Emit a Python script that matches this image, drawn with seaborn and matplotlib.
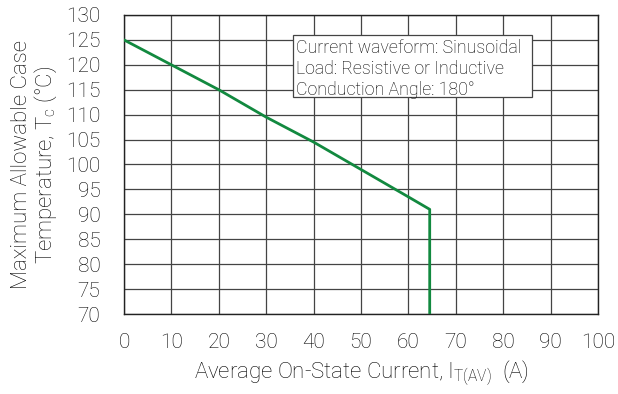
import matplotlib
matplotlib.use("Agg")
import matplotlib.pyplot as plt
from matplotlib.patches import Rectangle
import seaborn as sns
import pandas as pd

# Derating curve: average on-state current vs. maximum case temperature
current_a = [0, 10, 20, 30, 40, 50, 60, 64.5, 64.5]
case_temp_c = [125, 120, 115, 109.5, 104.5, 99, 93.5, 91, 70]

x_ticks = list(range(0, 101, 10))
y_ticks = list(range(70, 131, 5))

note_lines = [
    "Current waveform: Sinusoidal",
    "Load: Resistive or Inductive",
    "Conduction Angle: 180°",
]

sns.set_theme(style="white")
plt.rcParams["font.family"] = ["Roboto", "DejaVu Sans"]
plt.rcParams["font.weight"] = "light"
plt.rcParams["axes.labelweight"] = "light"
plt.rcParams["mathtext.default"] = "regular"

text_color = "#000000"

df = pd.DataFrame({"current": current_a, "temp": case_temp_c})

fig = plt.figure(figsize=(6.18, 3.94), dpi=100)
ax = fig.add_axes([0.2006, 0.203, 0.767, 0.759])

sns.lineplot(data=df, x="current", y="temp", sort=False, estimator=None,
             ax=ax, color="#12893f", linewidth=2.0, zorder=3)

ax.set_xlim(0, 100)
ax.set_ylim(70, 130)
ax.set_xticks(x_ticks)
ax.set_yticks(y_ticks)
ax.grid(True, color="#444444", linewidth=0.9)
ax.tick_params(axis="x", length=0, labelsize=15, pad=14, colors=text_color)
ax.tick_params(axis="y", length=0, labelsize=15, pad=17, colors=text_color)
for s in ax.spines.values():
    s.set_color("#222222")
    s.set_linewidth(1.0)

ax.set_xlabel("Average On-State Current, I$_{T(AV)}$  (A)", fontsize=16,
              color=text_color, labelpad=5)
ax.set_ylabel("Maximum Allowable Case\nTemperature, T$_c$ (°C)", fontsize=16,
              color=text_color, labelpad=5, linespacing=1.05)

# Operating-conditions note in a boxed panel
ax.add_patch(Rectangle((35.65, 113.5), 50.45, 12.5, facecolor="white",
                       edgecolor="#444444", linewidth=0.9, zorder=4))
ax.text(36.3, 125.2, "\n".join(note_lines), fontsize=12.8, color=text_color,
        va="top", ha="left", linespacing=1.22, zorder=5)

fig.savefig("out.png", dpi=100)
